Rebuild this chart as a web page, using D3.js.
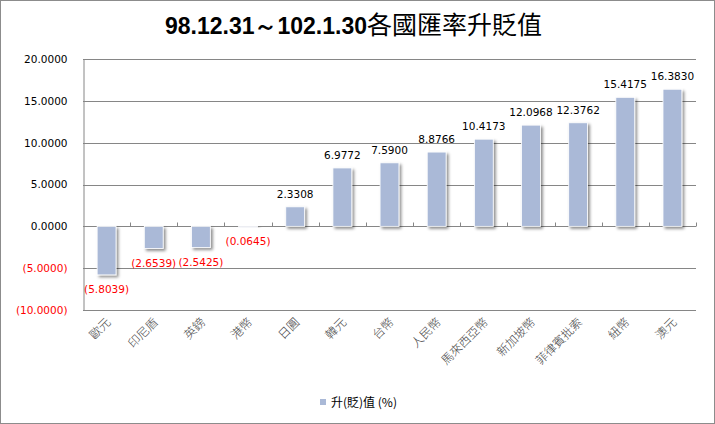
<!DOCTYPE html>
<html>
<head>
<meta charset="utf-8">
<script src="https://cdn.jsdelivr.net/npm/d3@7"></script>
<style>
  body { margin: 0; background: #fff; }
  svg { display: block; }
</style>
</head>
<body>
<svg id="chart"></svg>
<script>
// chart data
const categories = ["歐元", "印尼盾", "英鎊", "港幣", "日圓", "韓元", "台幣", "人民幣", "馬來西亞幣", "新加坡幣", "菲律賓批索", "紐幣", "澳元"];
const values = [-5.8039, -2.6539, -2.5425, -0.0645, 2.3308, 6.9772, 7.5900, 8.8766, 10.4173, 12.0968, 12.3762, 15.4175, 16.3830];
const yTicks = [-10, -5, 0, 5, 10, 15, 20];
const titleNum = "98.12.31～102.1.30";
const titleCjk = "各國匯率升貶值";
const legendLabel = "升(貶)值 (%)";

const width = 715, height = 424;
const margin = { top: 59, right: 19, bottom: 114, left: 83 };

const svg = d3.select("#chart")
  .attr("width", width)
  .attr("height", height);

// drop shadow for bars
const defs = svg.append("defs");
defs.append("filter")
  .attr("id", "shadow")
  .attr("x", "-30%").attr("y", "-30%")
  .attr("width", "180%").attr("height", "180%")
  .append("feDropShadow")
  .attr("dx", 2).attr("dy", 2)
  .attr("stdDeviation", 1.4)
  .attr("flood-color", "#000")
  .attr("flood-opacity", 0.45);

// outer border
svg.append("rect")
  .attr("x", 0.5).attr("y", 0.5)
  .attr("width", width - 1).attr("height", height - 1)
  .attr("fill", "#fff")
  .attr("stroke", "#8c8c8c");

const x = d3.scaleBand()
  .domain(categories)
  .range([margin.left, width - margin.right])
  .paddingInner(0.6)
  .paddingOuter(0.3);

const y = d3.scaleLinear()
  .domain([-10, 20])
  .range([height - margin.bottom, margin.top]);

const fmt = v => v < 0 ? `(${Math.abs(v).toFixed(4)})` : v.toFixed(4);

// gridlines
svg.append("g")
  .selectAll("line")
  .data(yTicks)
  .join("line")
  .attr("x1", margin.left)
  .attr("x2", width - margin.right)
  .attr("y1", d => Math.round(y(d)) + 0.5)
  .attr("y2", d => Math.round(y(d)) + 0.5)
  .attr("stroke", "#868686");

// y axis
const yAxis = svg.append("g")
  .attr("transform", `translate(${margin.left + 0.5},0)`)
  .call(d3.axisLeft(y).tickValues(yTicks).tickFormat(fmt).tickSize(0).tickPadding(16));
yAxis.select(".domain").attr("stroke", "#868686");
yAxis.selectAll("text")
  .attr("font-family", "DejaVu Sans, Verdana, sans-serif")
  .attr("font-size", "10.5px")
  .attr("fill", d => d < 0 ? "#ff0000" : "#000");

// category axis at zero
const zeroY = Math.round(y(0)) + 0.5;
const xTicks = d3.range(categories.length + 1)
  .map(i => margin.left + i * x.step());
svg.append("g")
  .selectAll("line")
  .data(xTicks.slice(1))
  .join("line")
  .attr("x1", d => Math.round(d) + 0.5)
  .attr("x2", d => Math.round(d) + 0.5)
  .attr("y1", zeroY - 4)
  .attr("y2", zeroY)
  .attr("stroke", "#868686");

// bars
svg.append("g")
  .selectAll("rect")
  .data(values)
  .join("rect")
  .attr("x", (d, i) => x(categories[i]))
  .attr("y", d => y(Math.max(0, d)))
  .attr("width", x.bandwidth())
  .attr("height", d => Math.max(1, Math.abs(y(d) - y(0))))
  .attr("fill", "#aab9d7")
  .attr("stroke", "#fff")
  .attr("stroke-width", 0.8)
  .attr("filter", "url(#shadow)");

// data labels
svg.append("g")
  .selectAll("text")
  .data(values)
  .join("text")
  .attr("x", (d, i) => x(categories[i]) + x.bandwidth() / 2)
  .attr("y", d => d >= 0 ? y(d) - 9 : y(d) + 18)
  .attr("text-anchor", "middle")
  .attr("font-family", "DejaVu Sans, Verdana, sans-serif")
  .attr("font-size", "10.5px")
  .attr("fill", d => d < 0 ? "#ff0000" : "#000")
  .text(fmt);

// category labels
svg.append("g")
  .selectAll("text")
  .data(categories)
  .join("text")
  .attr("transform", d => `translate(${x(d) + x.bandwidth() / 2 + 5},${y(-10) + 13}) rotate(-45)`)
  .attr("text-anchor", "end")
  .attr("font-family", "Noto Sans CJK TC, sans-serif")
  .attr("font-size", "12px")
  .attr("font-weight", 300)
  .attr("fill", "#444")
  .text(d => d);

// title
const title = svg.append("text")
  .attr("x", width / 2 - 4)
  .attr("y", 34)
  .attr("text-anchor", "middle");
title.append("tspan")
  .attr("font-family", "Liberation Sans, Arial, sans-serif")
  .attr("font-weight", "bold")
  .attr("font-size", "23px")
  .text(titleNum);
title.append("tspan")
  .attr("font-family", "Noto Sans CJK TC, sans-serif")
  .attr("font-size", "25px")
  .text(titleCjk);

// legend
svg.append("rect")
  .attr("x", 320).attr("y", 399)
  .attr("width", 6).attr("height", 6)
  .attr("fill", "#aab9d7");
svg.append("text")
  .attr("x", 331).attr("y", 407)
  .attr("font-family", "Noto Sans CJK TC, sans-serif")
  .attr("font-size", "12px")
  .attr("fill", "#000")
  .text(legendLabel);
</script>
</body>
</html>
